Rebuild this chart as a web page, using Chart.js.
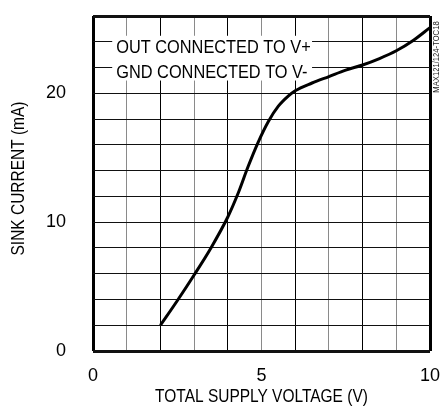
<!DOCTYPE html>
<html>
<head>
<meta charset="utf-8">
<script src="https://cdn.jsdelivr.net/npm/chart.js@4"></script>
<style>
html,body{margin:0;padding:0;background:#fff;}
canvas{display:block;}
</style>
</head>
<body>
<canvas id="c" width="443" height="410"></canvas>
<script>
const voltage = [2.0, 2.5, 3.0, 3.5, 4.0, 4.3, 4.6, 4.9, 5.2, 5.5, 5.8, 6.0, 6.5, 7.0, 7.5, 8.0, 8.5, 9.0, 9.5, 10.0];
const sinkCurrent = [2.0, 3.9, 5.9, 8.0, 10.4, 12.2, 14.3, 16.2, 17.8, 19.0, 19.8, 20.2, 20.8, 21.3, 21.8, 22.2, 22.7, 23.3, 24.1, 25.1];
const xTickLabels = [0, 5, 10];
const yTickLabels = [0, 10, 20];
const xTitle = 'TOTAL SUPPLY VOLTAGE (V)';
const yTitle = 'SINK CURRENT (mA)';
const noteLines = ['OUT CONNECTED TO V+', 'GND CONNECTED TO V-'];
const noteAnchorY = [24, 22];
const watermark = 'MAX121/124-TOC18';

const FONT = "'Liberation Sans', Arial, sans-serif";
const SQUEEZE = 0.86;

function narrowText(ctx, text, x, y, size, align, rot) {
  ctx.save();
  ctx.translate(x, y);
  if (rot) ctx.rotate(rot);
  ctx.scale(SQUEEZE, 1);
  ctx.font = size + 'px ' + FONT;
  ctx.textAlign = align;
  ctx.textBaseline = 'middle';
  ctx.fillStyle = '#000';
  ctx.fillText(text, 0, 0);
  ctx.restore();
}

const notesPlugin = {
  id: 'notes',
  afterDatasetsDraw(chart) {
    const {ctx, scales: {x, y}, chartArea: a} = chart;
    ctx.save();
    // white box behind the notes
    const left = x.getPixelForValue(0.57);
    const right = x.getPixelForValue(6.5);
    const top = y.getPixelForValue(noteAnchorY[0]) - 6;
    const bottom = y.getPixelForValue(noteAnchorY[1]) + 13;
    ctx.fillStyle = '#fff';
    ctx.fillRect(left, top, right - left, bottom - top);
    const tx = x.getPixelForValue(0.69);
    noteLines.forEach((t, i) => {
      const yy = y.getPixelForValue(noteAnchorY[i]);
      narrowText(ctx, t, tx, yy + 5.5, 19, 'left', 0);
    });
    // axis titles
    narrowText(ctx, xTitle, (a.left + a.right) / 2, 397, 18, 'center', 0);
    narrowText(ctx, yTitle, 19.5, (a.top + a.bottom) / 2 - 5, 18, 'center', -Math.PI / 2);
    // watermark
    ctx.save();
    ctx.translate(437, a.top + 41);
    ctx.rotate(-Math.PI / 2);
    ctx.scale(0.85, 1);
    ctx.font = '9px ' + FONT;
    ctx.textAlign = 'center';
    ctx.textBaseline = 'middle';
    ctx.fillStyle = '#222';
    ctx.fillText(watermark, 0, 0);
    ctx.restore();
    ctx.restore();
  }
};

function noPad(s) { s.paddingTop = 0; s.paddingBottom = 0; s.paddingLeft = 0; s.paddingRight = 0; }

new Chart(document.getElementById('c'), {
  type: 'scatter',
  data: {
    datasets: [{
      data: voltage.map((v, i) => ({x: v, y: sinkCurrent[i]})),
      showLine: true,
      borderColor: '#000',
      borderWidth: 3,
      pointRadius: 0,
      cubicInterpolationMode: 'monotone',
      fill: false
    }]
  },
  options: {
    responsive: false,
    animation: false,
    layout: {padding: {top: 16, right: 13, left: 0, bottom: 0}},
    plugins: {legend: {display: false}, tooltip: {enabled: false}},
    scales: {
      x: {
        type: 'linear', min: 0, max: 10,
        afterFit(s) { s.height = 59; noPad(s); },
        border: {display: false},
        grid: {
          drawTicks: false,
          color: c => (c.tick && c.tick.value % 2 === 1) ? '#8a8a8a' : '#000',
          lineWidth: c => (c.tick && (c.tick.value === 0 || c.tick.value === 10)) ? 3 : 1
        },
        ticks: {
          stepSize: 1, autoSkip: false, maxRotation: 0, padding: 14,
          color: '#000', font: {family: FONT, size: 18},
          callback: v => xTickLabels.includes(v) ? String(v) : ''
        },
        title: {display: false, text: xTitle}
      },
      y: {
        type: 'linear', min: 0, max: 26,
        afterFit(s) { s.width = 93; noPad(s); },
        border: {display: false},
        grid: {
          drawTicks: false,
          color: '#111',
          lineWidth: c => (c.tick && (c.tick.value === 0 || c.tick.value === 26)) ? 3 : 1
        },
        ticks: {
          stepSize: 2, autoSkip: false, padding: 27,
          color: '#000', font: {family: FONT, size: 18},
          callback: v => yTickLabels.includes(v) ? String(v) : ''
        },
        title: {display: false, text: yTitle}
      }
    }
  },
  plugins: [notesPlugin]
});
</script>
</body>
</html>
